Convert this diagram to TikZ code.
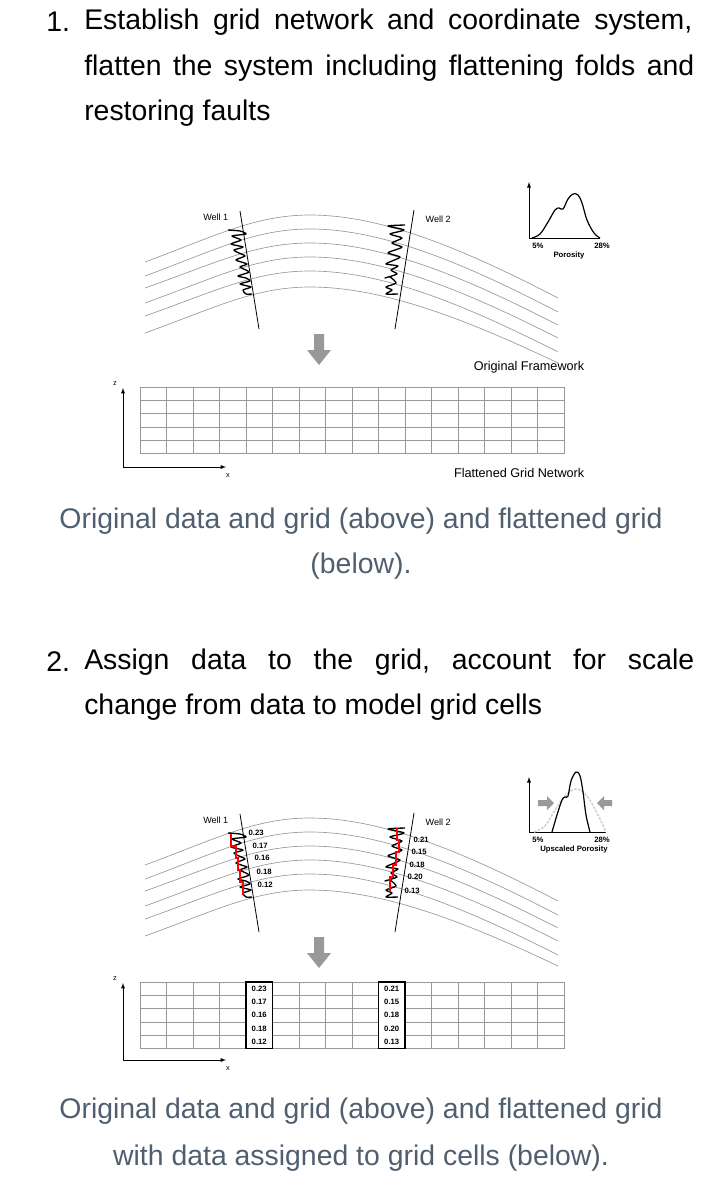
\documentclass[tikz,border=0pt]{standalone}
\usepackage{fontspec}
\setmainfont{Liberation Sans}
\definecolor{cap}{RGB}{80,95,112}
\definecolor{ln}{gray}{0.6}
\newcommand\bigtxt{\fontsize{21.3}{24}\selectfont}
\newcommand\diagfont{\fontsize{6.8}{8}\selectfont}
\newcommand\tinybold{\fontsize{5.8}{6}\selectfont\bfseries}
\newcommand\framework{%
 \foreach \L/\P/\R in {262/215/298,276/229/312,288/243/325,303/257/338,316/271/352,333/287/363}{
  \draw[ln,line width=0.5pt] (145,\L) .. controls (215,\L-0.55*\L+0.55*\P) and (255,\P) .. (310,\P) .. controls (385,\P) and (470,\R-0.55*\R+0.55*\P) .. (558,\R);}
 \draw[line width=0.6pt] (240,211) -- (259,329);
 \draw[line width=0.6pt] (414,210) -- (395,329);
 \node[anchor=east,font=\diagfont] (w1) at (233,217) {Well 1};
 \node[anchor=west,font=\diagfont] (w2) at (421,219) {Well 2};
 \draw[line width=1pt,line join=round] plot[smooth,tension=0.4] coordinates {(228,230)(240,231)(246,234)(232,236)(241,240)(231,244)(243,247)(234,250)(239,253)(245,256)(236,260)(247,264)(240,267)(249,272)(238,276)(246,278)(250,281)(240,284)(251,287)(243,290)(246,294)(252,294)};
 \draw[line width=1pt,line join=round] plot[smooth,tension=0.4] coordinates {(405,225)(388,226)(404,230)(390,234)(402,238)(392,243)(402,247)(395,250)(388,253)(400,257)(392,261)(386,264)(398,266)(391,270)(397,274)(385,278)(390,277)(396,283)(386,287)(392,290)(386,294)(398,294)};
}
\newcommand\gridnet{%
 \foreach \i in {0,...,5} \draw[ln,line width=0.5pt] (140,387+13.3*\i) -- (564,387+13.3*\i);
 \foreach \j in {0,...,16} \draw[ln,line width=0.5pt] (140+26.5*\j,387) -- (140+26.5*\j,453.5);
}
\begin{document}
\begin{tikzpicture}[x=0.75pt,y=-0.75pt]
\useasboundingbox (0,0) rectangle (723,1200);
% texts
\node[anchor=west,font=\bigtxt,inner sep=0] (n1) at (46,22) {1.};
\node[anchor=west,font=\bigtxt,inner sep=0] (l1) at (84,22) {\makebox[456pt][s]{Establish\hfill grid\hfill network\hfill and\hfill coordinate\hfill system,}};
\node[anchor=west,font=\bigtxt,inner sep=0] (l2) at (84,68) {\makebox[457.5pt][s]{flatten\hfill the\hfill system\hfill including\hfill flattening\hfill folds\hfill and}};
\node[anchor=west,font=\bigtxt,inner sep=0] (l3) at (84,113) {restoring faults};
\node[font=\bigtxt,text=cap] (c1a) at (361,521) {Original data and grid (above) and flattened grid};
\node[font=\bigtxt,text=cap] (c1b) at (361,566) {(below).};
\node[anchor=west,font=\bigtxt,inner sep=0] (n2) at (46,662) {2.};
\node[anchor=west,font=\bigtxt,inner sep=0] (m1) at (84,662) {\makebox[457.5pt][s]{Assign\hfill data\hfill to\hfill the\hfill grid,\hfill account\hfill for\hfill scale}};
\node[anchor=west,font=\bigtxt,inner sep=0] (m2) at (84,707) {change from data to model grid cells};
\node[font=\bigtxt,text=cap] (c2a) at (361,1111) {Original data and grid (above) and flattened grid};
\node[font=\bigtxt,text=cap] (c2b) at (361,1158) {with data assigned to grid cells (below).};

% ===== diagram 1
\framework
\draw[line width=0.5pt,-latex] (529,238) -- (529,182);
\draw[line width=0.5pt] (529,238) -- (600,238);
\draw[line width=0.9pt] plot[smooth,tension=0.6] coordinates {(532,238)(540,234)(548,222)(555,210)(559,208)(563,209)(568,199)(573,194)(578,195)(582,203)(587,220)(594,233)(600,238)};
\node[font=\tinybold] (p5) at (538,246) {5\%};
\node[font=\tinybold] (p28) at (602,246) {28\%};
\node[font=\tinybold] (por) at (569,255) {Porosity};
\fill[gray!80] (314,334) -- (324,334) -- (324,350) -- (331,350) -- (319,365) -- (307,350) -- (314,350) -- cycle;
\node[anchor=east,font=\fontsize{9.5}{11}\selectfont] (of) at (589,367) {Original Framework};
\gridnet
\draw[line width=0.4pt,-latex] (123,467) -- (123,388);
\draw[line width=0.4pt,-latex] (123,467) -- (226,467);
\node[font=\fontsize{5.5}{6}\selectfont] (z1) at (115,384) {z};
\node[font=\fontsize{5.5}{6}\selectfont] (x1) at (228,476) {x};
\node[anchor=east,font=\fontsize{9.5}{11}\selectfont] (fg) at (589,473) {Flattened Grid Network};

% ===== diagram 2
\begin{scope}[shift={(0,603)}]
\framework
\draw[red,line width=0.8pt] (231,231)--(231,243)--(236,243)--(236,255)--(238,255)--(238,267)--(240,267)--(240,279)--(243,279)--(243,292);
\draw[red,line width=0.8pt] (397,225)--(397,237)--(399,237)--(399,249)--(396,249)--(396,262)--(393,262)--(393,274)--(390,274)--(390,289);
\foreach \t/\x/\y in {0.23/247/230,0.17/251/243,0.16/253/255,0.18/255/269,0.12/256/282,0.21/412/237,0.15/410/249,0.18/408/262,0.20/406/274,0.13/403/288}
  \node[font=\tinybold,anchor=west,inner sep=1pt] at (\x,\y) {\t};
\fill[gray!80] (314,334) -- (324,334) -- (324,350) -- (331,350) -- (319,365) -- (307,350) -- (314,350) -- cycle;
\end{scope}
\draw[line width=0.5pt,-latex] (529,832) -- (529,777);
\draw[line width=0.5pt] (529,832) -- (606,832);
\draw[gray!35,line width=1.2pt,dash pattern=on 2pt off 1pt] plot[smooth,tension=0.6] coordinates {(534,832)(545,826)(555,810)(565,796)(576,789)(587,796)(598,815)(606,832)};
\draw[line width=0.9pt] plot[smooth,tension=0.6] coordinates {(552,832)(557,815)(562,800)(565,797)(568,796)(571,781)(576,772)(580,776)(583,792)(586,815)(590,832)};
\fill[gray!80] (538,800) -- (547,800) -- (547,796) -- (554,803) -- (547,810) -- (547,806) -- (538,806) -- cycle;
\fill[gray!80] (612,800) -- (604,800) -- (604,796) -- (597,803) -- (604,810) -- (604,806) -- (612,806) -- cycle;
\node[font=\tinybold] (q5) at (538,840) {5\%};
\node[font=\tinybold] (q28) at (602,840) {28\%};
\node[font=\tinybold] (upor) at (574,849) {Upscaled Porosity};
\begin{scope}[shift={(0,595)}]
\gridnet
\fill[white] (246,387) rectangle (272.5,453.5);
\fill[white] (378.5,387) rectangle (405,453.5);
\draw[ln,line width=0.5pt] (246,387) -- (272.5,387) (246,453.5) -- (272.5,453.5) (378.5,387) -- (405,387) (378.5,453.5) -- (405,453.5);
\draw[line width=0.9pt] (246,387) rectangle (272.5,453.5);
\draw[line width=0.9pt] (378.5,387) rectangle (405,453.5);
\foreach \t [count=\i] in {0.23,0.17,0.16,0.18,0.12}
  \node[font=\tinybold] at (259.25,387+13.3*\i-6.65) {\t};
\foreach \t [count=\i] in {0.21,0.15,0.18,0.20,0.13}
  \node[font=\tinybold] at (391.75,387+13.3*\i-6.65) {\t};
\draw[line width=0.4pt,-latex] (123,465) -- (123,388);
\draw[line width=0.4pt,-latex] (123,465) -- (226,465);
\node[font=\fontsize{5.5}{6}\selectfont] (z2) at (115,384) {z};
\node[font=\fontsize{5.5}{6}\selectfont] (x2) at (228,474) {x};
\end{scope}
\end{tikzpicture}
\end{document}
